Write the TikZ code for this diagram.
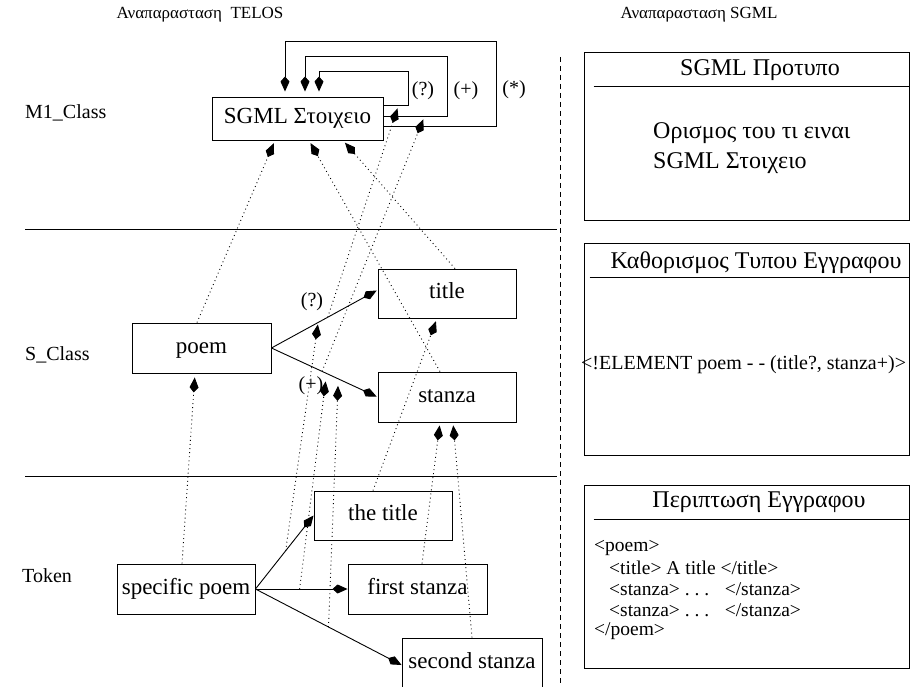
\documentclass[tikz,border=0pt]{standalone}
\usepackage{fontspec}
\setmainfont{Liberation Serif}
\usetikzlibrary{arrows.meta,calc}
\begin{document}
\begin{tikzpicture}[x=1pt,y=-1pt,
  box/.style={draw,line width=0.9pt,inner sep=0pt,text height=15pt,text depth=5pt,font=\fontsize{23}{27}\selectfont},
  panel/.style={draw,line width=0.9pt,inner sep=0pt},
  arr/.style={line width=0.9pt,-{Kite[length=15pt,width=9pt,inset=5pt]}},
  dotarr/.style={arr,dash pattern=on 0.9pt off 3.2pt},
  lbl/.style={font=\fontsize{20}{24}\selectfont,inner sep=0pt},
  hdr/.style={font=\fontsize{17}{21}\selectfont,inner sep=0pt},
  ptitle/.style={font=\fontsize{24}{28}\selectfont,inner sep=0pt},
  pbody/.style={font=\fontsize{19.5}{23}\selectfont,inner sep=0pt,anchor=west},
]
\useasboundingbox (0,0) rectangle (911,687);

% headers
\node[hdr] (h1) at (200,15) {Αναπαρασταση\ \ TELOS};
\node[hdr] (h2) at (699,15) {Αναπαρασταση SGML};

% row labels
\node[lbl,anchor=west] (r1) at (25,113) {M1\_Class};
\node[lbl,anchor=west] (r2) at (25,355) {S\_Class};
\node[lbl,anchor=west] (r3) at (22,576) {Token};

% separators
\coordinate (s1a) at (25,229); \coordinate (s1b) at (557,229);
\coordinate (s2a) at (25,476); \coordinate (s2b) at (557,476);
\draw[line width=0.9pt] (s1a) -- (s1b);
\draw[line width=0.9pt] (s2a) -- (s2b);
\coordinate (va) at (560,57); \coordinate (vb) at (560,687);
\draw[line width=0.8pt,dash pattern=on 5pt off 4pt] (va) -- (vb);

% boxes
\node[box,minimum width=171pt,minimum height=43pt] (sg) at (297.5,118.5) {SGML Στοιχειο};
\node[box,minimum width=139pt,minimum height=50pt] (poem) at (201.5,348) {poem};
\node[box,minimum width=138pt,minimum height=49pt] (title) at (447,293.5) {title};
\node[box,minimum width=138pt,minimum height=50pt] (stanza) at (447,397) {stanza};
\node[box,minimum width=138pt,minimum height=49pt] (thetitle) at (383,515.5) {the title};
\node[box,minimum width=138pt,minimum height=50pt] (specific) at (186,589) {specific poem};
\node[box,minimum width=139pt,minimum height=50pt] (first) at (417.5,589) {first stanza};
\node[box,minimum width=140pt,minimum height=50pt] (second) at (472,663) {second stanza};

% loops on SGML Stoixeio
\draw[arr,shorten >=5pt] ([yshift=-9pt]sg.north east) -- coordinate[pos=0.6] (q) ++(25,0) -- ++(0,-34) -| ([xshift=21.5pt]sg.north);
\draw[arr,shorten >=5pt] ([yshift=-20pt]sg.north east) -- coordinate[pos=0.64] (p) ++(64,0) -- ++(0,-60) -| ([xshift=7.5pt]sg.north);
\draw[arr,shorten >=5pt] ([yshift=-30pt]sg.north east) -- ++(113,0) -- ++(0,-85) -| ([xshift=-12.5pt]sg.north);
\node[lbl] (lq) at (423,91) {(?)};
\node[lbl] (lp) at (466,91) {(+)};
\node[lbl] (ls) at (514,90) {(*)};

% class level relations
\draw[arr,shorten >=1pt] (poem.east) -- coordinate[pos=0.44] (pt8) coordinate[pos=0.53] (pt11) ([yshift=3.5pt]title.west);
\draw[arr,shorten >=1pt] (poem.east) -- coordinate[pos=0.52] (pt9) coordinate[pos=0.63] (pt10) coordinate[pos=0.477] (pt12) (stanza.west);
\node[lbl] (lq2) at (312,302) {(?)};
\node[lbl] (lp2) at (311,386) {(+)};

% token level relations
\draw[arr] (specific.east) -- coordinate[pos=0.52] (pt8s) (thetitle.west);
\draw[arr] (specific.east) -- coordinate[pos=0.48] (pt9s) (first.west);
\draw[arr] (specific.east) -- coordinate[pos=0.50] (pt10s) ([yshift=-2pt]second.west);

% instance-of (dotted)
\draw[dotarr,shorten >=4pt] ([xshift=-4pt]specific.north) -- ([xshift=-6.5pt]poem.south);
\draw[dotarr,shorten >=3pt] ([xshift=-4.5pt]poem.north) -- ([xshift=-22.5pt]sg.south);
\draw[dotarr,shorten >=3pt] ([xshift=8pt]title.north) -- ([xshift=45.5pt]sg.south);
\draw[dotarr,shorten >=3pt] ([xshift=-7pt]stanza.north) -- ([xshift=11.5pt]sg.south);
\draw[dotarr,shorten >=3pt] ([xshift=-10pt]thetitle.north) -- ([xshift=-10pt]title.south);
\draw[dotarr,shorten >=3pt] ([xshift=4.5pt]first.north) -- ([xshift=-7pt]stanza.south);
\draw[dotarr,shorten >=3pt] (second.north) -- ([xshift=6pt]stanza.south);
\draw[dotarr,shorten >=2pt] (pt8s) -- (pt8);
\draw[dotarr,shorten >=8pt] (pt9s) -- (pt9);
\draw[dotarr,shorten >=7pt] (pt10s) -- (pt10);
\draw[dotarr,shorten >=3pt] (pt11) -- (q);
\draw[dotarr,shorten >=3pt] (pt12) -- (p);

% right panels
\node[panel,minimum width=325pt,minimum height=168pt] (p1) at (746.5,136) {};
\draw[line width=0.9pt] ([xshift=10pt,yshift=-35pt]p1.north west) -- ([yshift=-35pt]p1.north east);
\node[ptitle] (p1t) at (760,70) {SGML Προτυπο};
\node[ptitle,anchor=west] (p1a) at (653,133) {Ορισμος του τι ειναι};
\node[ptitle,anchor=west] (p1b) at (653,163) {SGML Στοιχειο};

\node[panel,minimum width=325pt,minimum height=212pt] (p2) at (746.5,349) {};
\draw[line width=0.9pt] ([xshift=6pt,yshift=-35pt]p2.north west) -- ([yshift=-35pt]p2.north east);
\node[ptitle] (p2t) at (756,263) {Καθορισμος Τυπου Εγγραφου};
\node[font=\fontsize{20}{24}\selectfont,inner sep=0pt,anchor=west] (p2a) at (581,365) {<!ELEMENT poem - - (title?, stanza+)>};

\node[panel,minimum width=325pt,minimum height=183pt] (p3) at (746.5,576.5) {};
\draw[line width=0.9pt] ([xshift=10pt,yshift=-35pt]p3.north west) -- ([yshift=-35pt]p3.north east);
\node[ptitle] (p3t) at (759,502) {Περιπτωση Εγγραφου};
\node[pbody] (b1) at (594,548) {<poem>};
\node[pbody] (b2) at (609,568) {<title> A title </title>};
\node[pbody] (b3) at (609,589) {<stanza>\ .\ .\ .\hspace{0.8em}</stanza>};
\node[pbody] (b4) at (609,610) {<stanza>\ .\ .\ .\hspace{0.8em}</stanza>};
\node[pbody] (b5) at (594,631) {</poem>};
\end{tikzpicture}
\end{document}
